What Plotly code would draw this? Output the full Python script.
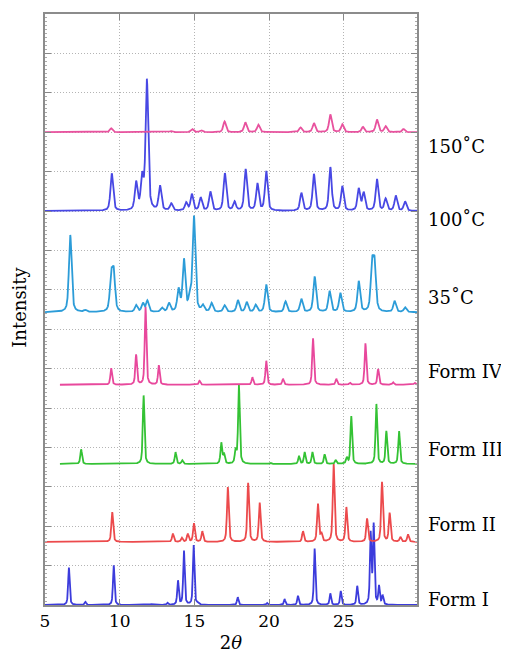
import numpy as np
import plotly.graph_objects as go

# ---- data (peak position 2θ, peak height above baseline) ----
series_names = ["Form I", "Form II", "Form III", "Form IV", "35˚C", "100˚C", "150˚C"]
series_colors = ["#3C3CDC", "#EC4A4C", "#34C234", "#E8489C", "#2C9CD8", "#4848E4", "#E8529E"]
series_offsets = [0.0, 1.6, 3.58, 5.59, 7.43, 10.0, 12.0]
series_start = [5.0, 5.0, 6.0, 6.0, 5.0, 5.0, 5.0]
series_fwhm = [0.12, 0.14, 0.13, 0.13, 0.21, 0.21, 0.21]

formI_pos = [6.6, 7.7, 9.6, 12.1, 13.2, 13.9, 14.3, 14.95, 15.2, 17.9, 19.86, 21.04, 21.93, 23.05, 24.1, 24.8, 25.9, 26.8, 27.0, 27.36, 27.6]
formI_int = [0.95, 0.08, 1.01, 0.02, 0.05, 0.61, 1.37, 1.52, 0.03, 0.2, 0.05, 0.14, 0.23, 1.43, 0.29, 0.35, 0.48, 1.79, 2.0, 0.46, 0.23]

formII_pos = [9.5, 13.56, 14.16, 14.56, 14.97, 15.53, 17.24, 18.6, 19.37, 22.27, 23.27, 23.5, 24.32, 25.17, 26.56, 27.56, 28.07, 28.79, 29.3]
formII_int = [0.76, 0.21, 0.1, 0.2, 0.47, 0.27, 1.39, 1.5, 0.99, 0.27, 0.96, 0.2, 1.98, 0.88, 0.59, 1.52, 0.73, 0.12, 0.19]

formIII_pos = [7.42, 11.6, 13.74, 14.19, 16.8, 16.98, 17.76, 17.98, 20.08, 22.0, 22.38, 22.9, 23.72, 24.46, 25.2, 25.5, 27.18, 27.85, 28.7]
formIII_int = [0.37, 1.74, 0.3, 0.09, 0.53, 0.25, 0.33, 1.99, 0.03, 0.2, 0.3, 0.3, 0.24, 0.09, 0.15, 1.21, 1.52, 0.83, 0.83]

formIV_pos = [9.43, 11.1, 11.73, 12.62, 15.35, 18.88, 19.81, 20.93, 22.94, 24.5, 25.4, 26.45, 27.3, 28.3, 29.75]
formIV_int = [0.42, 0.76, 1.98, 0.49, 0.1, 0.19, 0.61, 0.15, 1.18, 0.15, 0.05, 1.05, 0.4, 0.06, 0.05]

t35_pos = [6.69, 7.7, 9.43, 9.6, 11.1, 11.55, 11.85, 12.83, 13.3, 13.94, 14.3, 14.7, 14.97, 15.57, 16.15, 17.02, 17.91, 18.5, 19.1, 19.81, 21.1, 22.16, 23.05, 24.05, 24.77, 26.0, 26.89, 27.06, 28.4, 29.1]
t35_int = [1.96, 0.05, 0.9, 0.95, 0.17, 0.22, 0.28, 0.1, 0.22, 0.55, 1.3, 0.35, 2.4, 0.15, 0.22, 0.17, 0.3, 0.25, 0.18, 0.7, 0.27, 0.33, 0.9, 0.53, 0.48, 0.78, 1.15, 1.15, 0.28, 0.12]

t100_pos = [9.47, 11.1, 11.5, 11.82, 12.7, 13.45, 14.45, 14.83, 15.42, 16.07, 17.04, 17.69, 18.43, 19.22, 19.81, 22.16, 23.0, 24.1, 24.9, 26.0, 26.33, 27.22, 27.8, 28.48, 29.1]
t100_int = [0.95, 0.7, 0.8, 3.3, 0.62, 0.18, 0.2, 0.42, 0.33, 0.48, 0.95, 0.22, 1.05, 0.68, 1.0, 0.45, 0.93, 1.1, 0.62, 0.55, 0.45, 0.8, 0.3, 0.38, 0.24]

t150_pos = [9.43, 13.45, 14.85, 15.45, 17.02, 18.41, 19.28, 22.1, 23.0, 24.1, 24.9, 26.28, 27.22, 27.8, 29.0]
t150_int = [0.1, 0.03, 0.08, 0.05, 0.27, 0.25, 0.19, 0.12, 0.23, 0.45, 0.2, 0.13, 0.32, 0.15, 0.08]

series_peaks = [
    (formI_pos, formI_int), (formII_pos, formII_int), (formIII_pos, formIII_int),
    (formIV_pos, formIV_int), (t35_pos, t35_int), (t100_pos, t100_int), (t150_pos, t150_int),
]

x_ticks = [5, 10, 15, 20, 25]
label_y = [0.15, 2.05, 3.95, 5.93, 7.8, 9.78, 11.63]

SERIF = "DejaVu Serif"


def profile(x, pos, inten, fwhm, eta=0.55):
    y = np.zeros_like(x)
    g = fwhm / 2.0
    for p, h in zip(pos, inten):
        lor = 1.0 / (1.0 + ((x - p) / g) ** 2)
        gau = np.exp(-np.log(2) * ((x - p) / g) ** 2)
        y += h * (eta * lor + (1 - eta) * gau)
    return y


fig = go.Figure()
for name, color, off, x0, fw, (pos, inten) in zip(series_names, series_colors, series_offsets,
                                                  series_start, series_fwhm, series_peaks):
    x = np.linspace(x0, 30.0, 3000)
    y = off + profile(x, pos, inten, fw)
    fig.add_trace(go.Scatter(x=x, y=y, mode="lines", name=name,
                             line=dict(color=color, width=1.8), showlegend=False))

# right-side labels
for name, ly in zip(series_names, label_y):
    fig.add_annotation(text=name, xref="paper", yref="y", x=1.025, y=ly, xanchor="left",
                       yanchor="middle", showarrow=False,
                       font=dict(family=SERIF, size=18, color="black"))

# y-axis title
fig.add_annotation(text="Intensity", xref="paper", yref="paper", x=-0.067, y=0.503,
                   xanchor="center", yanchor="middle", textangle=-90, showarrow=False,
                   font=dict(family=SERIF, size=18, color="black"))

# page body has an 8px default margin: compensate so the plot area lands where the reference has it
fig.update_layout(
    width=501, height=646,
    margin=dict(l=37, r=92, t=4, b=42),
    plot_bgcolor="white", paper_bgcolor="white",
    font=dict(family=SERIF, size=18, color="black"),
)
fig.update_xaxes(
    range=[5, 29.9], tickvals=x_ticks, ticks="inside", ticklen=6, tickcolor="#888",
    showline=True, linecolor="#8c8c8c", linewidth=1.5, mirror="ticks",
    showgrid=True, gridcolor="#b4b4b4", griddash="1px,2px", gridwidth=1,
    zeroline=False, tickfont=dict(family=SERIF, size=17),
    title=dict(text="2<i>θ</i>", font=dict(family=SERIF, size=18), standoff=6),
)
fig.update_yaxes(
    range=[0, 15], dtick=1, showticklabels=False, ticks="inside", ticklen=6, tickcolor="#888",
    showline=True, linecolor="#8c8c8c", linewidth=1.5, mirror="ticks",
    showgrid=True, gridcolor="#b4b4b4", griddash="1px,2px", gridwidth=1,
    zeroline=False,
    minor=dict(dtick=0.1, ticks="inside", ticklen=2, tickcolor="#aaa", showgrid=False),
)

fig.write_html("out.html")
